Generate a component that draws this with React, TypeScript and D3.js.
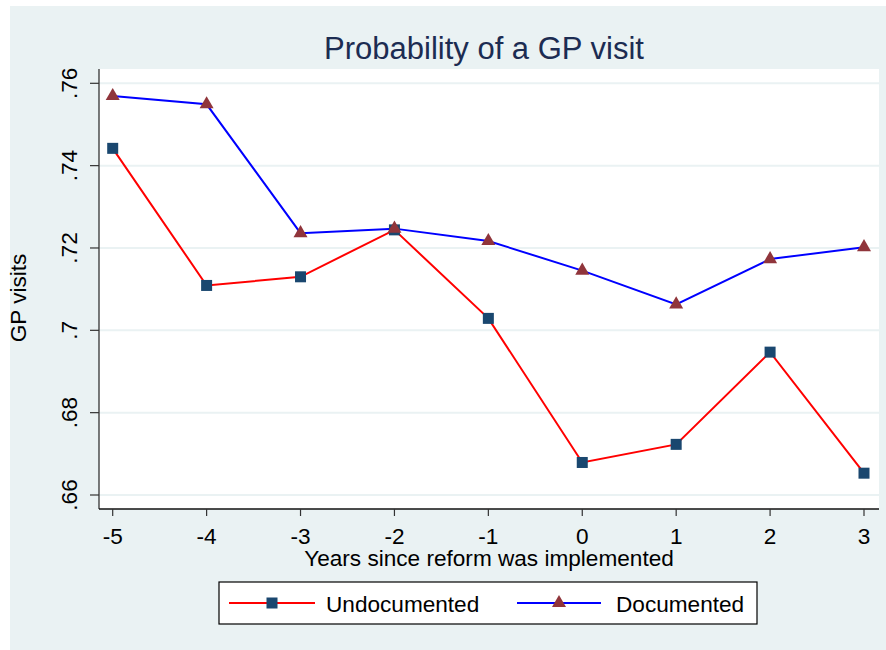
import React from "react";
import * as d3 from "d3";

const years = [-5, -4, -3, -2, -1, 0, 1, 2, 3];
const undocumented = [0.7442, 0.7109, 0.7130, 0.7244, 0.7029, 0.6679, 0.6723, 0.6947, 0.6653];
const documented = [0.7569, 0.7549, 0.7236, 0.7247, 0.7217, 0.7145, 0.7063, 0.7173, 0.7202];
const yTicks = [0.66, 0.68, 0.7, 0.72, 0.74, 0.76];
const yTickLabels = [".66", ".68", ".7", ".72", ".74", ".76"];
const xTickLabels = ["-5", "-4", "-3", "-2", "-1", "0", "1", "2", "3"];
const seriesNames = ["Undocumented", "Documented"];

const W = 886;
const H = 650;
const plotL = 99, plotR = 879, plotT = 69, plotB = 509;
const FONT = "'Liberation Sans', Arial, sans-serif";
const BG = "#EAF2F3";
const NAVY = "#1A476F";
const MAROON = "#90353B";
const FS = 22.6;

export default function App() {
  const x = d3.scaleLinear().domain([-5, 3]).range([112.7, 864]);
  const y = d3.scaleLinear().domain([0.66, 0.76]).range([495, 83.3]);

  const line = d3
    .line<number>()
    .x((_, i) => x(years[i]))
    .y((d) => y(d));

  const tri = d3.symbol().type(d3.symbolTriangle).size(85)();

  return (
    <svg
      width={W}
      height={H}
      style={{ position: "absolute", left: 0, top: 0 }}
      fontFamily={FONT}
    >
      <rect x={0} y={0} width={W} height={H} fill="#fff" />
      <rect x={10} y={6} width={W - 10} height={H - 6} fill={BG} />
      <rect x={plotL} y={plotT} width={plotR - plotL} height={plotB - plotT} fill="#fff" />

      {/* gridlines */}
      {yTicks.map((t) => (
        <line key={"g" + t} x1={plotL} x2={plotR} y1={y(t)} y2={y(t)} stroke={BG} strokeWidth={2} />
      ))}

      {/* title */}
      <text x={484} y={59} textAnchor="middle" fontSize={31} fill="#1c2c52">
        Probability of a GP visit
      </text>

      {/* axes */}
      <line x1={plotL} x2={plotL} y1={plotT} y2={plotB} stroke="#333" strokeWidth={1.3} />
      <line x1={plotL} x2={plotR} y1={plotB} y2={plotB} stroke="#111" strokeWidth={1.3} />

      {yTicks.map((t, i) => (
        <g key={"yt" + t}>
          <line x1={90} x2={plotL} y1={y(t)} y2={y(t)} stroke="#333" strokeWidth={1.2} />
          <text
            transform={`translate(77,${y(t)}) rotate(-90)`}
            textAnchor="middle"
            fontSize={FS}
            fill="#000"
          >
            {yTickLabels[i]}
          </text>
        </g>
      ))}

      {years.map((v, i) => (
        <g key={"xt" + v}>
          <line x1={x(v)} x2={x(v)} y1={plotB} y2={plotB + 7} stroke="#333" strokeWidth={1.2} />
          <text x={x(v)} y={544} textAnchor="middle" fontSize={FS} fill="#000">
            {xTickLabels[i]}
          </text>
        </g>
      ))}

      <text x={489} y={566} textAnchor="middle" fontSize={FS} fill="#000">
        Years since reform was implemented
      </text>
      <text transform="translate(26,298) rotate(-90)" textAnchor="middle" fontSize={FS} fill="#000">
        GP visits
      </text>

      {/* series */}
      <path d={line(undocumented) || ""} fill="none" stroke="#ff0000" strokeWidth={2} />
      <path d={line(documented) || ""} fill="none" stroke="#0000ff" strokeWidth={2} />

      {undocumented.map((v, i) => (
        <rect
          key={"s" + i}
          x={x(years[i]) - 5.5}
          y={y(v) - 5.5}
          width={11}
          height={11}
          fill={NAVY}
        />
      ))}
      {documented.map((v, i) => (
        <path key={"t" + i} d={tri || ""} transform={`translate(${x(years[i])},${y(v)})`} fill={MAROON} />
      ))}

      {/* legend */}
      <rect x={219} y={582} width={538} height={42} fill="#fff" stroke="#000" strokeWidth={1.2} />
      <line x1={229} x2={315} y1={603} y2={603} stroke="#ff0000" strokeWidth={2} />
      <rect x={266.5} y={597.5} width={11} height={11} fill={NAVY} />
      <text x={326} y={611.5} fontSize={FS} fill="#000">
        {seriesNames[0]}
      </text>
      <line x1={517} x2={601} y1={603} y2={603} stroke="#0000ff" strokeWidth={2} />
      <path d={tri || ""} transform="translate(559,603)" fill={MAROON} />
      <text x={616} y={611.5} fontSize={FS} fill="#000">
        {seriesNames[1]}
      </text>
    </svg>
  );
}
